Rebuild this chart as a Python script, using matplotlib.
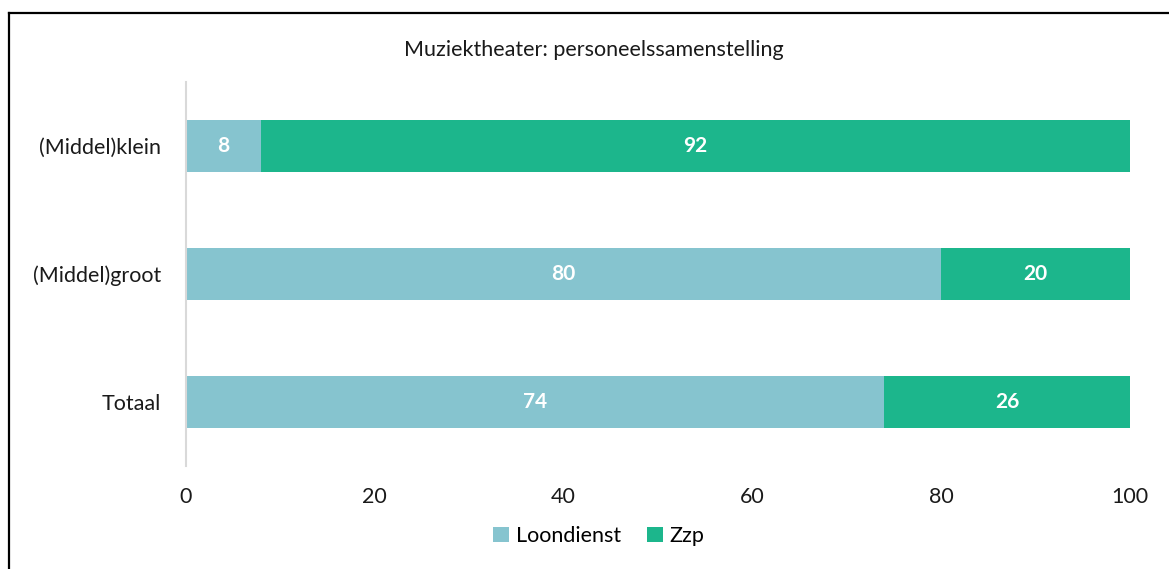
import matplotlib
matplotlib.use('Agg')
import matplotlib.pyplot as plt
from matplotlib.lines import Line2D

plt.rcParams['font.family'] = ['Lato', 'DejaVu Sans']

categories = ['(Middel)klein', '(Middel)groot', 'Totaal']
loondienst = [8, 80, 74]
zzp = [92, 20, 26]
series_names = ['Loondienst', 'Zzp']
colors = ['#86C4CF', '#1CB68C']
x_ticks = [0, 20, 40, 60, 80, 100]

fig = plt.figure(figsize=(11.69, 5.69), dpi=100)
ax = fig.add_axes([0.159, 0.181, 0.9666 - 0.159, 0.856 - 0.181])

ypos = list(range(len(categories)))
b1 = ax.barh(ypos, loondienst, height=0.4, color=colors[0], label=series_names[0])
b2 = ax.barh(ypos, zzp, left=loondienst, height=0.4, color=colors[1], label=series_names[1])

for bars, vals in ((b1, loondienst), (b2, zzp)):
    for bar, v in zip(bars, vals):
        cx = bar.get_x() + bar.get_width() / 2
        cy = bar.get_y() + bar.get_height() / 2
        ax.text(cx, cy, str(v), ha='center', va='center', color='white',
                fontsize=15, fontweight='bold')

ax.set_ylim(2.5, -0.5)
ax.set_xlim(0, 100)
ax.set_yticks(ypos)
ax.set_yticklabels(categories, fontsize=15.5)
ax.set_xticks(x_ticks)
ax.set_xticklabels([str(t) for t in x_ticks], fontsize=15.5)
ax.tick_params(axis='both', length=0, colors='#1a1a1a')
ax.tick_params(axis='x', pad=15)
ax.tick_params(axis='y', pad=18)
for s in ('top', 'right', 'bottom'):
    ax.spines[s].set_visible(False)
ax.spines['left'].set_color('#d9d9d9')
ax.spines['left'].set_linewidth(1.5)

fig.text(0.508, 0.913, 'Muziektheater: personeelssamenstelling', ha='center',
         va='center', fontsize=15.5, color='#1a1a1a')

fig.legend(handles=[b1, b2], labels=series_names, loc='center',
           bbox_to_anchor=(0.512, 0.058), ncol=2, frameon=False, fontsize=15.5,
           handlelength=0.75, handleheight=0.75, handletextpad=0.3, columnspacing=1.2)

# partial frame (top and left edges visible)
fig.add_artist(Line2D([0.0073, 1.0], [0.977, 0.977], color='black', lw=1.6,
                      transform=fig.transFigure))
fig.add_artist(Line2D([0.0073, 0.0073], [0.0, 0.977], color='black', lw=1.6,
                      transform=fig.transFigure))

fig.savefig('out.png', dpi=100)
